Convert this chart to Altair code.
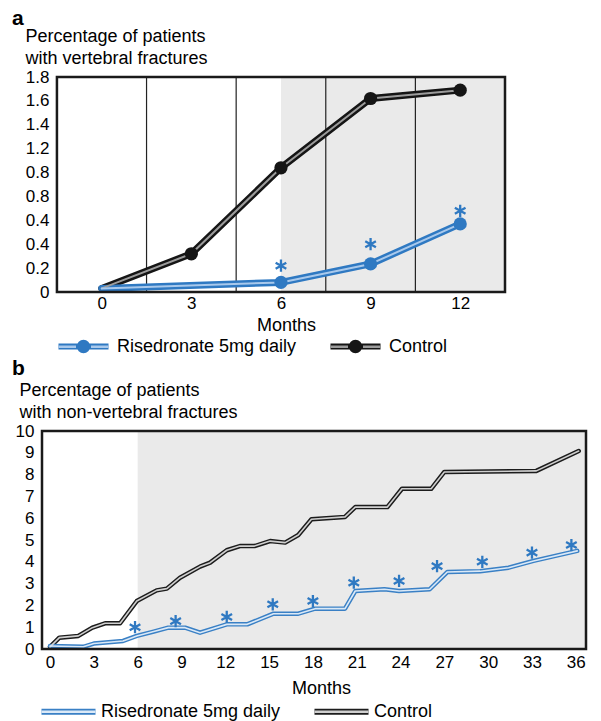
import altair as alt
import pandas as pd

FONT = "Liberation Sans"
RIS = "Risedronate 5mg daily"
CON = "Control"
SERIES = [RIS, CON]

# ---------------- panel a : vertebral fractures ----------------
a_con_months = [0, 3, 6, 9, 12]
a_con_values = [0.03, 0.32, 1.04, 1.62, 1.69]
a_ris_months = [0, 6, 9, 12]
a_ris_values = [0.03, 0.08, 0.235, 0.57]
a_con_pt_months = [3, 6, 9, 12]
a_con_pt_values = [0.32, 1.04, 1.62, 1.69]
a_ris_pt_months = [6, 9, 12]
a_ris_pt_values = [0.08, 0.235, 0.57]
a_star_months = [6, 9, 12]
a_star_values = [0.22, 0.40, 0.68]
a_dividers = [1.5, 4.5, 7.5, 10.5]
a_x_ticks = [0, 3, 6, 9, 12]
a_y_ticks = [0, 0.2, 0.4, 0.6, 0.8, 1.0, 1.2, 1.4, 1.6, 1.8]
a_y_labels = ["0", "0.2", "0.4", "0.4", "0.8", "0.8", "1.2", "1.4", "1.6", "1.8"]
a_frame = [-1.5, 13.5]          # framed plot region (months)
a_x_domain = [-2.0, 13.5]       # scale domain (extra room on the left)
a_y_domain = [0, 1.8]
a_shade = [6, 13.5]

# ---------------- panel b : non-vertebral fractures ----------------
b_con_months = [0, 0.64, 1.94, 2.9, 3.77, 4.8, 5.94, 7.3, 8.0, 8.9, 10.27, 10.96,
                12.1, 13.0, 14.0, 15.07, 16.1, 17.0, 17.9, 20.2, 20.9, 23.1, 24.1,
                26.1, 27.0, 33.3, 36.2]
b_con_values = [0.1, 0.52, 0.6, 0.98, 1.18, 1.18, 2.2, 2.69, 2.77, 3.27, 3.78, 3.96,
                4.53, 4.72, 4.72, 4.95, 4.88, 5.23, 5.95, 6.06, 6.51, 6.51, 7.35,
                7.35, 8.12, 8.17, 9.08]
b_ris_months = [0, 2.28, 3.0, 5.0, 5.94, 7.1, 8.1, 9.25, 10.27, 12.1, 13.5, 15.3,
                17.0, 18.15, 20.2, 20.9, 22.9, 23.9, 26.0, 27.2, 29.45, 31.4, 33.1, 36.1]
b_ris_values = [0.14, 0.1, 0.25, 0.37, 0.6, 0.8, 0.98, 0.98, 0.75, 1.13, 1.13, 1.62,
                1.62, 1.85, 1.85, 2.66, 2.74, 2.66, 2.74, 3.53, 3.57, 3.73, 4.04, 4.5]
b_star_months = [5.82, 8.6, 12.1, 15.25, 18.0, 20.8, 23.9, 26.5, 29.6, 33.0, 35.7]
b_star_values = [1.0, 1.28, 1.47, 2.05, 2.2, 3.04, 3.12, 3.8, 4.0, 4.42, 4.77]
b_x_ticks = list(range(0, 37, 3))
b_y_ticks = list(range(0, 11))
b_frame = [-0.55, 36.7]
b_x_domain = [-0.55, 36.7]
b_y_domain = [0, 10]
b_shade = [6, 36.7]

# ---------------- styles ----------------
BLUE = "#2f79c2"
BLUE_LIGHT = "#a9c9ec"
BLACK = "#151515"
GRAY_LIGHT = "#9c9c9c"
B_BLUE = "#3a80c5"
B_BLUE_LIGHT = "#dbe9f7"
B_BLACK = "#1c1c1c"
B_GRAY_LIGHT = "#cfcfcf"
SHADE = "#eaeaea"
FRAME = "#1a1a1a"
STAR = "M0,-1L0,1M-0.87,-0.5L0.87,0.5M-0.87,0.5L0.87,-0.5"


def ring(r):
    return "M%g,0A%g,%g,0,1,1,%g,0A%g,%g,0,1,1,%g,0" % (r, r, r, -r, r, r, r)


# legend symbols: a dark "outer" legend and a light "inner" legend are overlaid;
# both use the same stroke width and horizontal extent so their layouts coincide
A_OUTER_SYM = ("M-1,-0.07L1,-0.07M-1,0L1,0M-1,0.07L1,0.07"
               + ring(0.22) + ring(0.14) + ring(0.06))
A_INNER_SYM = "M-1,0L-0.3,0M0.3,0L1,0"
B_OUTER_SYM = "M-1,-0.065L1,-0.065M-1,0L1,0M-1,0.065L1,0.065"
B_INNER_SYM = "M-1,0L1,0"


def series_df(pairs):
    rows = []
    for name, months, values in pairs:
        for i, (m, v) in enumerate(zip(months, values)):
            rows.append({"series": name, "month": m, "value": v, "order": i})
    return pd.DataFrame(rows)


def legend(x, y, sym, size, hide_labels=False, gap=28, offset=7):
    kw = dict(title=None, orient="none", legendX=x, legendY=y, direction="horizontal",
              symbolType=sym, symbolSize=size, symbolStrokeWidth=2.5,
              labelFont=FONT, labelFontSize=18, labelColor="black", labelLimit=400,
              labelOffset=offset, columnPadding=gap, symbolOpacity=1)
    if hide_labels:
        kw["labelOpacity"] = 0
    return alt.Legend(**kw)


def make_panel(letter, letter_dx, letter_offset, ytitle, ytitle_x, y_offset,
               x_domain, y_domain, frame, x_ticks, y_ticks, y_label_expr, W, H,
               lines, pts, stars, shade, dividers, outer_rng, inner_rng, outer_w,
               inner_w, leg_outer, leg_inner, pt_rng, label_pad, months_pad, months_x):
    xaxis = dict(values=x_ticks, title="Months", grid=False, ticks=False,
                 domain=False, labelPadding=label_pad, titlePadding=months_pad,
                 labelFontSize=17, titleFontSize=18, labelFont=FONT,
                 titleFont=FONT, titleFontWeight="normal",
                 labelColor="black", titleColor="black", titleX=months_x)
    xenc = alt.X("month:Q", scale=alt.Scale(domain=x_domain, nice=False, zero=False),
                 axis=alt.Axis(**xaxis))
    yaxis = dict(values=y_ticks, title=ytitle, grid=False, ticks=False, domain=False,
                 offset=y_offset,
                 labelPadding=8, labelFontSize=17, labelFont=FONT, labelColor="black",
                 titleAngle=0, titleAlign="left", titleBaseline="alphabetic",
                 titleX=ytitle_x, titleY=-36, titleFont=FONT, titleFontSize=18,
                 titleFontWeight="normal", titleColor="black", titleLineHeight=22)
    if y_label_expr:
        yaxis["labelExpr"] = y_label_expr
    yenc = alt.Y("value:Q", scale=alt.Scale(domain=y_domain, nice=False, zero=False),
                 axis=alt.Axis(**yaxis))

    layers = []
    shade_df = pd.DataFrame({"month": [shade[0]], "month_end": [shade[1]]})
    layers.append(alt.Chart(shade_df).mark_rect(color=SHADE).encode(
        x=xenc, x2="month_end:Q", y=alt.value(0), y2=alt.value(H)))
    if dividers:
        layers.append(alt.Chart(pd.DataFrame({"month": dividers})).mark_rule(
            color="#222222", strokeWidth=1.2).encode(x=xenc))
    layers.append(alt.Chart(lines).mark_line(strokeWidth=outer_w, strokeJoin="round",
                                             strokeCap="round").encode(
        x=xenc, y=yenc, order="order:Q",
        color=alt.Color("series:N", scale=alt.Scale(domain=SERIES, range=outer_rng),
                        legend=leg_outer)))
    layers.append(alt.Chart(lines).mark_line(strokeWidth=inner_w, strokeJoin="round",
                                             strokeCap="round").encode(
        x=xenc, y=yenc, order="order:Q",
        color=alt.Color("series:N", scale=alt.Scale(domain=SERIES, range=inner_rng),
                        legend=leg_inner)))
    if pts is not None:
        layers.append(alt.Chart(pts).mark_circle(size=175, opacity=1).encode(
            x=xenc, y=yenc,
            color=alt.Color("series:N", scale=alt.Scale(domain=SERIES, range=pt_rng),
                            legend=None)))
    layers.append(alt.Chart(stars).mark_point(shape=STAR, size=150, strokeWidth=2.3,
                                              filled=False, color=BLUE, opacity=1).encode(
        x=xenc, y=yenc))
    # plot frame drawn on top of the shading
    frame_df = pd.DataFrame({"month": [frame[0]], "month_end": [frame[1]]})
    layers.append(alt.Chart(frame_df).mark_rect(
        fill=None, filled=False, stroke=FRAME, strokeWidth=2.5).encode(
        x=xenc, x2="month_end:Q", y=alt.value(0), y2=alt.value(H)))
    return alt.layer(*layers).resolve_scale(color="independent").resolve_legend(
        color="independent").properties(
        width=W, height=H,
        title=alt.TitleParams(letter, anchor="start", frame="group", dx=letter_dx,
                              fontSize=21, fontWeight="bold", font=FONT, color="black",
                              offset=letter_offset))


a_lines = series_df([(CON, a_con_months, a_con_values), (RIS, a_ris_months, a_ris_values)])
a_pts = series_df([(CON, a_con_pt_months, a_con_pt_values), (RIS, a_ris_pt_months, a_ris_pt_values)])
a_stars = pd.DataFrame({"month": a_star_months, "value": a_star_values})
a_expr = "[" + ",".join("'%s'" % s for s in a_y_labels) + "][round(datum.value*5)]"

b_lines = series_df([(CON, b_con_months, b_con_values), (RIS, b_ris_months, b_ris_values)])
b_stars = pd.DataFrame({"month": b_star_months, "value": b_star_values})

panel_a = make_panel(
    "a", -30, -2, ["Percentage of patients", "with vertebral fractures"], -32, -15,
    a_x_domain, a_y_domain, a_frame, a_x_ticks, a_y_ticks, a_expr, 463, 215,
    a_lines, a_pts, a_stars, a_shade, a_dividers,
    [BLUE, BLACK], [BLUE_LIGHT, GRAY_LIGHT], 7, 2,
    legend(15, 243, A_OUTER_SYM, 2500),
    legend(15, 243, A_INNER_SYM, 2500, hide_labels=True),
    [BLUE, BLACK], 3, 5, 244)

panel_b = make_panel(
    "b", -30, 2, ["Percentage of patients", "with non-vertebral fractures"], -23, 0,
    b_x_domain, b_y_domain, b_frame, b_x_ticks, b_y_ticks, None, 544, 218,
    b_lines, None, b_stars, b_shade, None,
    [B_BLUE, B_BLACK], [B_BLUE_LIGHT, B_GRAY_LIGHT], 4.5, 1.6,
    legend(-2, 252, B_OUTER_SYM, 2916, offset=4),
    legend(-2, 252, B_INNER_SYM, 2916, hide_labels=True, offset=4),
    None, 5, 9, 279)

chart = alt.vconcat(panel_a, panel_b, spacing=1).configure(
    padding={"left": 4, "top": 0, "right": 0, "bottom": 0}
).configure_view(strokeWidth=0)

chart.save("out.html", embed_options={"renderer": "svg", "actions": False})
